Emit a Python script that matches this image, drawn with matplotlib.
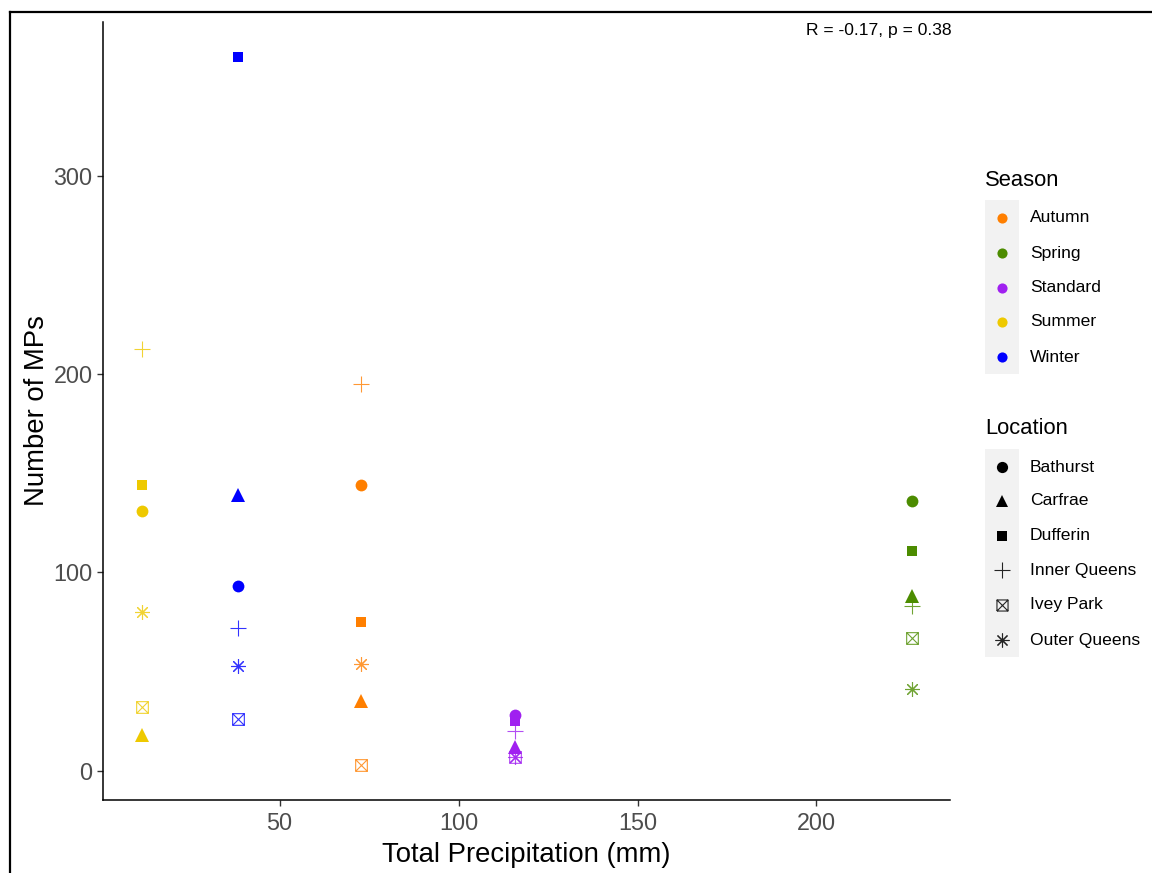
import matplotlib
matplotlib.use("Agg")
import matplotlib.pyplot as plt
from matplotlib.path import Path
from matplotlib.lines import Line2D
from matplotlib.patches import Rectangle

plt.rcParams['font.family'] = ['Liberation Sans', 'DejaVu Sans']

# ---------------- data ----------------
seasons = ["Autumn", "Spring", "Standard", "Summer", "Winter"]
locations = ["Bathurst", "Carfrae", "Dufferin", "Inner Queens", "Ivey Park", "Outer Queens"]
precip = [72.8, 226.8, 115.9, 11.5, 38.5]   # total precipitation (mm) per season

autumn_mps = [144, 35, 75, 195, 3, 54]
spring_mps = [136, 88, 111, 83, 67, 41]
standard_mps = [28, 12, 25, 20, 7, 7]
summer_mps = [131, 18, 144, 213, 32, 80]
winter_mps = [93, 139, 360, 72, 26, 53]
mps = [autumn_mps, spring_mps, standard_mps, summer_mps, winter_mps]

season_colors = ["#FF7F00", "#4C8C00", "#A020F0", "#EEC900", "#0000FF"]
stat_label = "R = -0.17, p = 0.38"

# ---------------- marker shapes ----------------
boxx = Path([(-1, -1), (1, -1), (1, 1), (-1, 1), (-1, -1),
             (-1, -1), (1, 1), (-1, 1), (1, -1)],
            [Path.MOVETO, Path.LINETO, Path.LINETO, Path.LINETO, Path.LINETO,
             Path.MOVETO, Path.LINETO, Path.MOVETO, Path.LINETO])
loc_style = {
    "Bathurst": dict(marker='o', ms=8.5, filled=True),
    "Carfrae": dict(marker='^', ms=9.5, filled=True),
    "Dufferin": dict(marker='s', ms=7.2, filled=True),
    "Inner Queens": dict(marker='+', ms=11.5, filled=False),
    "Ivey Park": dict(marker=boxx, ms=8.4, filled=False),
    "Outer Queens": dict(marker=(8, 2, 0), ms=10.5, filled=False),
}
OPEN_LW = 0.8
OPEN_ALPHA = 0.8

W, H = 1152, 873
fig = plt.figure(figsize=(W / 100, H / 100), dpi=100)
ax = fig.add_axes([103 / W, 1 - 800 / H, (950 - 103) / W, (800 - 22) / H])

for s, col, x, vals in zip(seasons, season_colors, precip, mps):
    for loc, v in zip(locations, vals):
        st = loc_style[loc]
        if st["filled"]:
            ax.plot([x], [v], linestyle='none', marker=st["marker"], ms=st["ms"],
                    color=col, markeredgewidth=0)
        else:
            ax.plot([x], [v], linestyle='none', marker=st["marker"], ms=st["ms"],
                    color=col, markerfacecolor='none', markeredgewidth=OPEN_LW,
                    alpha=OPEN_ALPHA)

ax.set_xlim(0.65, 237.3)
ax.set_ylim(-14.85, 377.85)
ax.set_xticks([50, 100, 150, 200])
ax.set_yticks([0, 100, 200, 300])
for sp in ["top", "right"]:
    ax.spines[sp].set_visible(False)
for sp in ["left", "bottom"]:
    ax.spines[sp].set_color("black")
    ax.spines[sp].set_linewidth(1.1)
ax.tick_params(axis='both', colors="#333333", labelcolor="#4D4D4D", labelsize=16.8,
               length=4.5, width=1.0)
ax.tick_params(axis='x', pad=4)
ax.tick_params(axis='y', pad=3)
ax.set_xlabel("Total Precipitation (mm)", fontsize=19.8, color="black", labelpad=5)
ax.set_ylabel("Number of MPs", fontsize=19.8, color="black", labelpad=2.5)

fig.text(952 / W, 1 - 31 / H, stat_label, ha='right', va='center', fontsize=12.6, color='black')

# ---------------- legends (manual, ggplot style) ----------------
def fy(py):
    return 1 - py / H

key_x0, key_x1 = 985, 1019
key_cx = (key_x0 + key_x1) / 2
text_x = 1030

# Season
fig.text(key_x0 / W, fy(181), "Season", ha='left', va='center', fontsize=15.8)
season_rows = [218, 253, 288, 322, 357]
fig.add_artist(Rectangle((key_x0 / W, fy(374)), (key_x1 - key_x0) / W, (374 - 200) / H,
                         transform=fig.transFigure, facecolor="#F2F2F2", edgecolor='none', zorder=1))
for s, col, py in zip(seasons, season_colors, season_rows):
    fig.add_artist(Line2D([key_cx / W], [fy(py)], marker='o', ms=7.3, color=col,
                          markeredgewidth=0, linestyle='none', transform=fig.transFigure, zorder=3))
    fig.text(text_x / W, fy(py), s, ha='left', va='center', fontsize=12.6)

# Location
fig.text(key_x0 / W, fy(429), "Location", ha='left', va='center', fontsize=15.8)
loc_rows = [467, 501, 536, 570, 605, 640]
fig.add_artist(Rectangle((key_x0 / W, fy(657)), (key_x1 - key_x0) / W, (657 - 449) / H,
                         transform=fig.transFigure, facecolor="#F2F2F2", edgecolor='none', zorder=1))
for loc, py in zip(locations, loc_rows):
    st = loc_style[loc]
    if st["filled"]:
        kw = dict(color='black', markeredgewidth=0)
    else:
        kw = dict(color='black', markerfacecolor='none', markeredgewidth=OPEN_LW, alpha=0.85)
    fig.add_artist(Line2D([key_cx / W], [fy(py)], marker=st["marker"], ms=st["ms"] * 0.95,
                          linestyle='none', transform=fig.transFigure, zorder=3, **kw))
    fig.text(text_x / W, fy(py), loc, ha='left', va='center', fontsize=12.6)

# outer frame lines (left and top)
fig.add_artist(Line2D([10 / W, 1.0], [fy(12), fy(12)], color='black', lw=1.6,
                      transform=fig.transFigure))
fig.add_artist(Line2D([10 / W, 10 / W], [fy(12), 0.0], color='black', lw=1.6,
                      transform=fig.transFigure))

fig.savefig("out.png", dpi=100, facecolor='white')
